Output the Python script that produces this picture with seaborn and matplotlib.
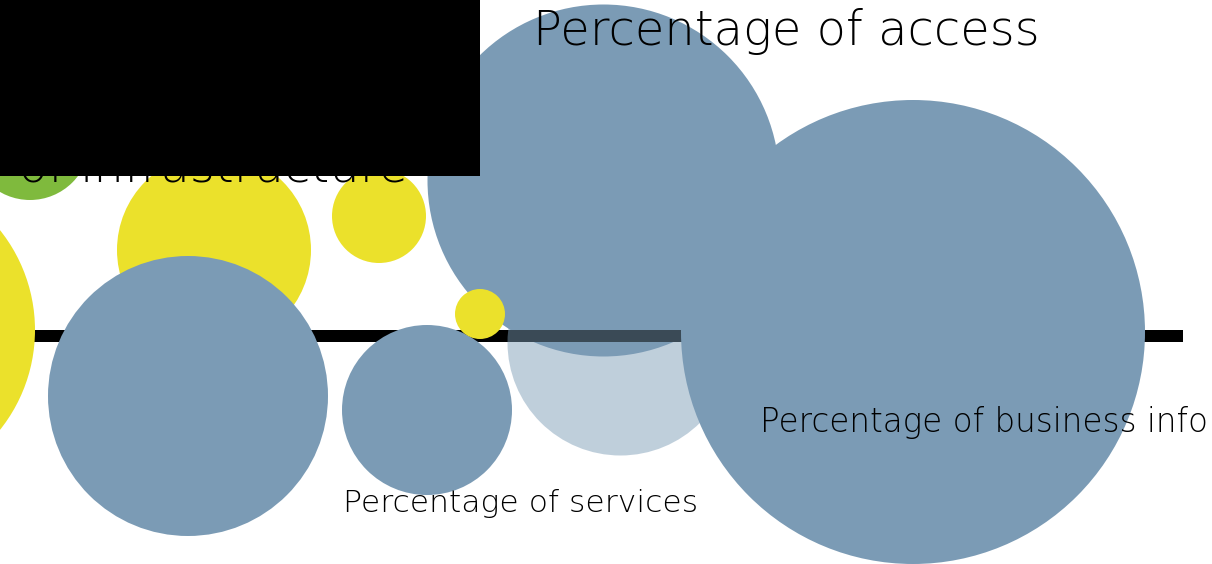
import numpy as np
import pandas as pd
import matplotlib.pyplot as plt
import seaborn as sns

W, H, DPI = 1212, 564, 100

# bubbles (pixel space of the original graphic, y down)
bubble_kind = ["access", "overlay", "green", "yellow", "yellow", "yellow",
               "blue", "blue", "yellow", "blue"]
bubble_x = [603, 620, 30, -125, 214, 379, 188, 427, 480, 913]
bubble_y = [180, 342, 140, 330, 250, 216, 396, 410, 314, 332]
bubble_r = [176, 113, 60, 160, 97, 47, 140, 85, 25, 232]

labels = ["Percentage of infrastructure", "Percentage of access",
          "Percentage of services", "Percentage of business info"]

palette = {"access": "#7b9bb5", "overlay": "#7b9bb5", "green": "#7fba3d",
           "yellow": "#ebe12b", "blue": "#7b9bb5"}

df = pd.DataFrame({"kind": bubble_kind, "x": bubble_x, "y": bubble_y, "r": bubble_r})
df["s"] = (2 * df["r"] * 72 / DPI) ** 2

sns.set_style("white")
plt.rcParams["font.family"] = ["DejaVu Sans"]

fig = plt.figure(figsize=(W / DPI, H / DPI), dpi=DPI)
ax = fig.add_axes([0, 0, 1, 1])
ax.set_xlim(0, W)
ax.set_ylim(H, 0)
ax.axis("off")

# access bubble sits below the axis line
back = df[df["kind"] == "access"]
sns.scatterplot(data=back, x="x", y="y", hue="kind", palette=palette, s=back["s"].values,
                linewidth=0, legend=False, ax=ax, zorder=1)

ax.plot([0, 1183], [336, 336], color="black", lw=12 * 72 / DPI,
        solid_capstyle="butt", zorder=2)

# half transparent bubble on top of the line
over = df[df["kind"] == "overlay"]
sns.scatterplot(data=over, x="x", y="y", hue="kind", palette=palette, s=over["s"].values,
                linewidth=0, alpha=0.48, legend=False, ax=ax, zorder=3)

front = df[~df["kind"].isin(["access", "overlay"])]
sns.scatterplot(data=front, x="x", y="y", hue="kind", palette=palette, s=front["s"].values,
                linewidth=0, legend=False, ax=ax, zorder=4)

ax.set_xlim(0, W)
ax.set_ylim(H, 0)

# labels: anchor, alignment, width in px to fit
spec = [(408, 182, "right", None), (533, 45, "left", 507),
        (343, 512, "left", 354), (760, 432, "left", 447)]
renderer = fig.canvas.get_renderer()
texts = []
for lab, (x, y, ha, width) in zip(labels, spec):
    t = ax.text(x, y, lab, ha=ha, va="baseline", fontsize=30, fontweight=200,
                color="black", zorder=6)
    if width:
        w = t.get_window_extent(renderer).width
        t.set_fontsize(30 * width / w)
    texts.append(t)
texts[0].set_fontsize(texts[1].get_fontsize())

# redaction box over the top-left title
ax.fill_between([0, 480], 0, 176, color="black", zorder=7, lw=0)

fig.savefig("out.png", dpi=DPI, facecolor="white")
